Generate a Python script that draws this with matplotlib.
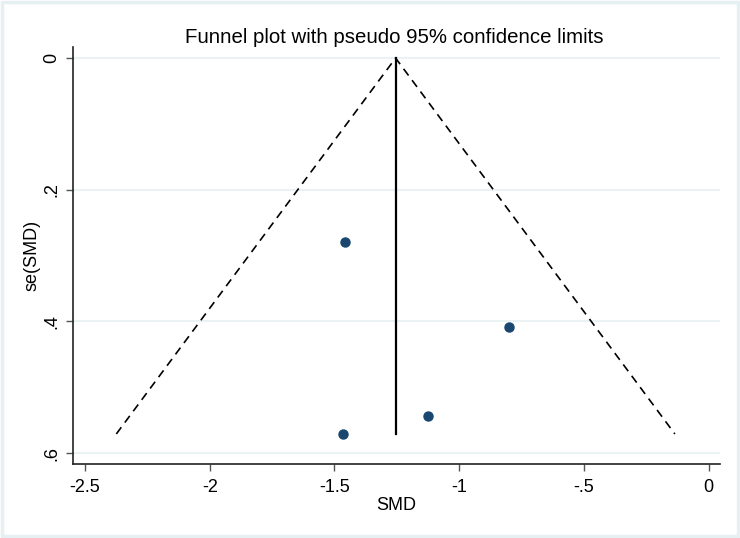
import matplotlib.pyplot as plt
from matplotlib.patches import Rectangle

plt.rcParams['font.family'] = ['Liberation Sans', 'DejaVu Sans']

# study estimates
smd = [-1.456, -0.800, -1.127, -1.464]
se = [0.280, 0.409, 0.543, 0.571]
pooled = -1.255
se_max = 0.571

xticks = [-2.5, -2, -1.5, -1, -0.5, 0]
xtick_labels = ['-2.5', '-2', '-1.5', '-1', '-.5', '0']
yticks = [0, 0.2, 0.4, 0.6]
ytick_labels = ['0', '.2', '.4', '.6']

fig = plt.figure(figsize=(7.4, 5.38), dpi=100)
fig.patches.append(Rectangle((0.003, 0.004), 0.994, 0.992, transform=fig.transFigure,
                             fill=False, edgecolor='#e6eff1', linewidth=2.5))
ax = fig.add_axes([0.0986, 0.1375, 0.874, 0.775])

for y in yticks:
    ax.axhline(y, color='#eaf2f3', linewidth=1.5, zorder=0)

# pseudo 95% limits
ax.plot([pooled - 1.96 * se_max, pooled, pooled + 1.96 * se_max], [se_max, 0, se_max],
        color='black', linestyle=(0, (5, 3.5)), linewidth=1.2)
ax.plot([pooled, pooled], [0, se_max], color='black', linewidth=1.6)
ax.plot(smd, se, 'o', color='#1a476f', markersize=6.5, linestyle='none')

ax.set_xlim(-2.548, 0.044)
ax.set_ylim(0.6167, -0.0167)
ax.set_xticks(xticks, xtick_labels)
ax.set_yticks(yticks, ytick_labels)
for lab in ax.get_yticklabels():
    lab.set_rotation(90)
    lab.set_va('center')
ax.tick_params(labelsize=13, length=5, width=1, color='#555555', labelcolor='black')
ax.tick_params(axis='x', pad=6)
ax.tick_params(axis='y', pad=4)
ax.spines['top'].set_visible(False)
ax.spines['right'].set_visible(False)
for s in ['left', 'bottom']:
    ax.spines[s].set_color('#222222')
    ax.spines[s].set_linewidth(1.2)

ax.set_xlabel('SMD', fontsize=13)
ax.xaxis.set_label_coords(0.5, -0.110)
ax.xaxis.label.set_va('baseline')
ax.set_ylabel('se(SMD)', fontsize=13)
ax.yaxis.set_label_coords(-0.0626, 0.5)
ax.yaxis.label.set_va('center')
fig.text(0.533, 0.931, 'Funnel plot with pseudo 95% confidence limits', ha='center',
         va='center', fontsize=14.7)

fig.savefig('out.png', dpi=100, facecolor='white')
